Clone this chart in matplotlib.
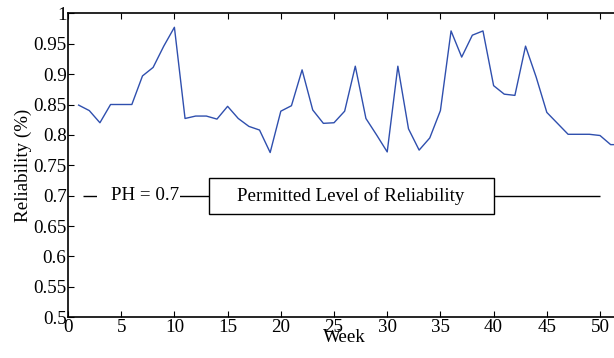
import matplotlib
matplotlib.use("Agg")
import matplotlib.pyplot as plt
from matplotlib.patches import Rectangle
from matplotlib.ticker import FuncFormatter

weeks = list(range(1, 53))
reliability = [0.849, 0.840, 0.820, 0.850, 0.850, 0.850, 0.897, 0.911, 0.946, 0.977,
               0.827, 0.831, 0.831, 0.826, 0.847, 0.827, 0.814, 0.808, 0.771, 0.839,
               0.848, 0.907, 0.841, 0.819, 0.820, 0.839, 0.913, 0.827, 0.800, 0.772,
               0.913, 0.810, 0.775, 0.795, 0.840, 0.971, 0.928, 0.964, 0.971, 0.881,
               0.867, 0.865, 0.946, 0.895, 0.837, 0.819, 0.801, 0.801, 0.801, 0.799,
               0.784, 0.784]
PH = 0.7
ph_label = "PH = 0.7"
box_label = "Permitted Level of Reliability"
xticks = list(range(0, 55, 5))
yticks = [0.5, 0.55, 0.6, 0.65, 0.7, 0.75, 0.8, 0.85, 0.9, 0.95, 1.0]

plt.rcParams['font.family'] = ['Liberation Serif', 'DejaVu Serif']
FS = 13.7

fig = plt.figure(figsize=(6.14, 3.58), dpi=100)
ax = fig.add_axes([68/614, 40.7/358, (621.3-68)/614, 304/358])

ax.plot(weeks, reliability, color='#2f4fae', lw=1.0)

# permitted level line with annotations
ax.hlines(PH, 1.4, 50, color='black', lw=1.0, zorder=2)
ax.add_patch(Rectangle((2.75, PH - 0.02), 10.53 - 2.75, 0.04,
                       facecolor='white', edgecolor='none', zorder=3))
ax.text(7.2, PH, ph_label, ha='center', va='center', fontsize=FS, zorder=4)
ax.add_patch(Rectangle((13.25, PH - 0.0295), 40.0 - 13.25, 0.059,
                       facecolor='white', edgecolor='black', lw=1.0, zorder=3))
ax.text(26.6, PH, box_label, ha='center', va='center', fontsize=FS, zorder=4)

ax.set_xlim(0, 52)
ax.set_ylim(0.5, 1.0)
ax.set_xticks(xticks)
ax.set_yticks(yticks)
ax.yaxis.set_major_formatter(FuncFormatter(lambda v, p: ('%g' % round(v, 2))))
ax.tick_params(direction='in', top=True, right=True, length=4, width=0.8,
               labelsize=FS, pad=1)
for s in ax.spines.values():
    s.set_linewidth(1.2)
ax.set_xlabel('Week', fontsize=FS, labelpad=-4.5)
ax.set_ylabel('Reliability (%)', fontsize=FS, labelpad=1)

fig.savefig('out.png', dpi=100)
